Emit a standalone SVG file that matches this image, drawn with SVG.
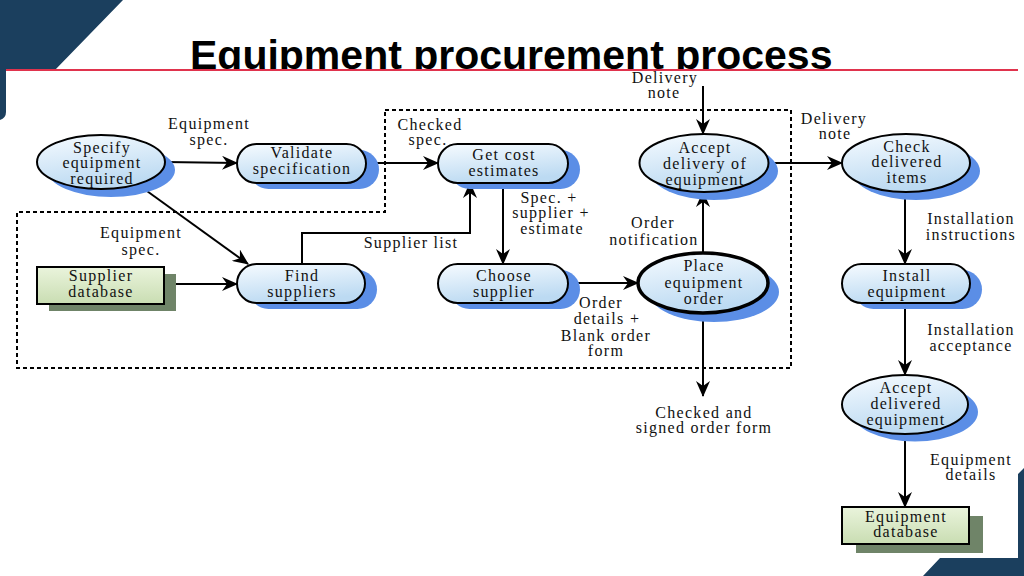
<svg xmlns="http://www.w3.org/2000/svg" width="1024" height="576" viewBox="0 0 1024 576">
<defs>
<style>
.t{font-family:"Liberation Serif","Times New Roman",serif;font-size:16px;letter-spacing:1.3px;fill:#111;text-anchor:middle}
.title{font-family:"Liberation Sans",Arial,sans-serif;font-weight:bold;font-size:41px;fill:#000}
.n{fill:url(#gb);stroke:#000;stroke-width:2}
.sh{fill:#5b8ee6}
.db{fill:url(#gg);stroke:#000;stroke-width:2}
.dbs{fill:#6f8468}
.c{fill:none;stroke:#000;stroke-width:2}
.bd{fill:none;stroke:#000;stroke-width:2;stroke-dasharray:4 3}
</style>
<linearGradient id="gb" x1="0" y1="0" x2="0.3" y2="1">
<stop offset="0" stop-color="#f6fbff"/>
<stop offset="1" stop-color="#bcdaf2"/>
</linearGradient>
<linearGradient id="gg" x1="0" y1="0" x2="0" y2="1">
<stop offset="0" stop-color="#eaf4dc"/>
<stop offset="1" stop-color="#c9ddb2"/>
</linearGradient>
<marker id="ar" markerUnits="userSpaceOnUse" markerWidth="16" markerHeight="14" refX="15" refY="7" orient="auto">
<path d="M0,0 L16,7 L0,14 L5,7 z" fill="#000"/>
</marker>
<clipPath id="tc"><rect x="0" y="0" width="1024" height="70"/></clipPath>
</defs>
<rect width="1024" height="576" fill="#fff"/>
<text class="title" x="190" y="69" clip-path="url(#tc)">Equipment procurement process</text>
<path d="M0,0 H123 L55,70 H6 V112 Q6,118 0,120 Z" fill="#1b3f5e"/>
<path d="M1024,468 L1018,474 V558 H940 L923,576 H1024 Z" fill="#1b3f5e"/>
<line x1="6" y1="70" x2="1018" y2="70" stroke="#e0334d" stroke-width="2"/>

<g id="boundary">
<path class="bd" d="M385,110 H791 V368 H17 V212 H385 Z"/>
</g>

<g id="connectors">
<line class="c" x1="165" y1="162" x2="237" y2="163" marker-end="url(#ar)"/>
<line class="c" x1="140" y1="186" x2="248" y2="264" marker-end="url(#ar)"/>
<line class="c" x1="164" y1="284" x2="237" y2="284" marker-end="url(#ar)"/>
<line class="c" x1="366" y1="163" x2="438" y2="163" marker-end="url(#ar)"/>
<path class="c" d="M302,264 V233 H470 V183" marker-end="url(#ar)"/>
<line class="c" x1="503" y1="183" x2="503" y2="264" marker-end="url(#ar)"/>
<line class="c" x1="568" y1="283" x2="638" y2="283" marker-end="url(#ar)"/>
<line class="c" x1="703" y1="253" x2="703" y2="192" marker-end="url(#ar)"/>
<line class="c" x1="703" y1="86" x2="703" y2="134" marker-end="url(#ar)"/>
<line class="c" x1="768" y1="163" x2="842" y2="163" marker-end="url(#ar)"/>
<line class="c" x1="703" y1="313" x2="703" y2="396" marker-end="url(#ar)"/>
<line class="c" x1="905" y1="192" x2="905" y2="264" marker-end="url(#ar)"/>
<line class="c" x1="905" y1="303" x2="905" y2="375" marker-end="url(#ar)"/>
<line class="c" x1="905" y1="434" x2="905" y2="507" marker-end="url(#ar)"/>
</g>

<g id="labels">
<text class="t" x="209" y="129">Equipment</text>
<text class="t" x="209" y="145">spec.</text>
<text class="t" x="141" y="238">Equipment</text>
<text class="t" x="141" y="255">spec.</text>
<text class="t" x="430" y="130">Checked</text>
<text class="t" x="428" y="145">spec.</text>
<text class="t" x="411" y="248">Supplier list</text>
<text class="t" x="549" y="203">Spec. +</text>
<text class="t" x="551" y="218">supplier +</text>
<text class="t" x="552" y="234">estimate</text>
<text class="t" x="601" y="308">Order</text>
<text class="t" x="607" y="324">details +</text>
<text class="t" x="606" y="341">Blank order</text>
<text class="t" x="606" y="356">form</text>
<text class="t" x="653" y="228">Order</text>
<text class="t" x="654" y="245">notification</text>
<text class="t" x="665" y="83">Delivery</text>
<text class="t" x="664" y="98">note</text>
<text class="t" x="834" y="124">Delivery</text>
<text class="t" x="835" y="139">note</text>
<text class="t" x="704" y="418">Checked and</text>
<text class="t" x="704" y="433">signed order form</text>
<text class="t" x="971" y="224">Installation</text>
<text class="t" x="971" y="240">instructions</text>
<text class="t" x="971" y="335">Installation</text>
<text class="t" x="971" y="351">acceptance</text>
<text class="t" x="971" y="465">Equipment</text>
<text class="t" x="971" y="480">details</text>
</g>

<g id="specify">
<ellipse class="sh" cx="111" cy="170" rx="64" ry="27"/>
<ellipse class="n" cx="101" cy="162" rx="64" ry="27"/>
<text class="t" x="102" y="153">Specify</text>
<text class="t" x="102" y="168">equipment</text>
<text class="t" x="102" y="184">required</text>
</g>
<g id="validate">
<rect class="sh" x="249" y="150" width="130" height="39" rx="19.5"/>
<rect class="n" x="237" y="144" width="129" height="39" rx="19.5"/>
<text class="t" x="302" y="158">Validate</text>
<text class="t" x="302" y="174">specification</text>
</g>
<g id="getcost">
<rect class="sh" x="450" y="150" width="130" height="39" rx="19.5"/>
<rect class="n" x="438" y="144" width="130" height="39" rx="19.5"/>
<text class="t" x="504" y="160">Get cost</text>
<text class="t" x="504" y="176">estimates</text>
</g>
<g id="acceptdelivery">
<ellipse class="sh" cx="714" cy="171" rx="64" ry="29"/>
<ellipse class="n" cx="704" cy="163" rx="64.5" ry="29"/>
<text class="t" x="705" y="153">Accept</text>
<text class="t" x="705" y="169">delivery of</text>
<text class="t" x="705" y="185">equipment</text>
</g>
<g id="check">
<ellipse class="sh" cx="916" cy="171" rx="64" ry="29"/>
<ellipse class="n" cx="906" cy="163" rx="64" ry="29"/>
<text class="t" x="907" y="152">Check</text>
<text class="t" x="907" y="167">delivered</text>
<text class="t" x="907" y="183">items</text>
</g>
<g id="supplierdb">
<rect class="dbs" x="49" y="274" width="127" height="37"/>
<rect class="db" x="37" y="267" width="127" height="37"/>
<text class="t" x="101" y="281">Supplier</text>
<text class="t" x="101" y="297">database</text>
</g>
<g id="find">
<rect class="sh" x="249" y="270" width="128" height="39" rx="19.5"/>
<rect class="n" x="237" y="264" width="128" height="39" rx="19.5"/>
<text class="t" x="302" y="281">Find</text>
<text class="t" x="302" y="297">suppliers</text>
</g>
<g id="choose">
<rect class="sh" x="450" y="270" width="130" height="39" rx="19.5"/>
<rect class="n" x="438" y="264" width="130" height="39" rx="19.5"/>
<text class="t" x="504" y="281">Choose</text>
<text class="t" x="504" y="297">supplier</text>
</g>
<g id="place">
<ellipse class="sh" cx="714" cy="292" rx="65" ry="30"/>
<ellipse class="n" cx="703" cy="283" rx="65" ry="30" style="stroke-width:3.5"/>
<text class="t" x="704" y="271">Place</text>
<text class="t" x="704" y="288">equipment</text>
<text class="t" x="704" y="304">order</text>
</g>
<g id="install">
<rect class="sh" x="854" y="270" width="128" height="39" rx="19.5"/>
<rect class="n" x="842" y="264" width="128" height="39" rx="19.5"/>
<text class="t" x="907" y="281">Install</text>
<text class="t" x="907" y="297">equipment</text>
</g>
<g id="acceptdelivered">
<ellipse class="sh" cx="915" cy="412" rx="63" ry="29.5"/>
<ellipse class="n" cx="905" cy="404.5" rx="63" ry="29.5"/>
<text class="t" x="906" y="393">Accept</text>
<text class="t" x="906" y="409">delivered</text>
<text class="t" x="906" y="425">equipment</text>
</g>
<g id="equipdb">
<rect class="dbs" x="856" y="516" width="127" height="37"/>
<rect class="db" x="842" y="507" width="127" height="37"/>
<text class="t" x="906" y="522">Equipment</text>
<text class="t" x="906" y="537">database</text>
</g>
</svg>
